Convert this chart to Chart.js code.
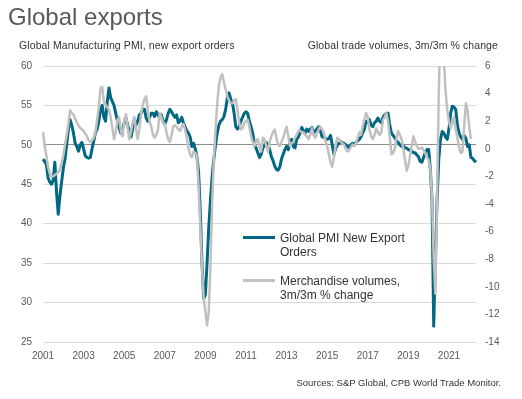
<!DOCTYPE html>
<html>
<head>
<meta charset="utf-8">
<script src="https://cdn.jsdelivr.net/npm/chart.js@4.4.1/dist/chart.umd.min.js"></script>
<style>
  html, body { margin: 0; padding: 0; background: #fff; }
  #wrap { position: relative; width: 522px; height: 399px; font-family: "Liberation Sans", Arial, sans-serif; overflow: hidden; }
  #chart { position: absolute; left: 0; top: 0; }
  .txt { position: absolute; white-space: nowrap; }
  .title { left: 8px; top: 5px; font-size: 24px; line-height: 24px; color: #595959; }
  .sub { top: 39px; font-size: 10.5px; line-height: 12px; color: #333; letter-spacing: 0.1px; }
  .source { right: 21px; top: 377px; font-size: 9.5px; line-height: 12px; color: #333; }
  .leg { left: 280px; font-size: 12px; line-height: 14px; color: #333; }
  .legline { position: absolute; left: 243px; width: 32px; }
</style>
</head>
<body>
<div id="wrap">
  <canvas id="chart" width="522" height="399"></canvas>
  <div class="txt title">Global exports</div>
  <div class="txt sub" style="left:19px">Global Manufacturing PMI, new export orders</div>
  <div class="txt sub" style="right:24px">Global trade volumes, 3m/3m % change</div>
  <div class="legline" style="top:236px;height:3px;background:#006882"></div>
  <div class="txt leg" style="top:231px">Global PMI New Export<br>Orders</div>
  <div class="legline" style="top:279px;height:3px;background:#c0c0c0"></div>
  <div class="txt leg" style="top:274px">Merchandise volumes,<br>3m/3m % change</div>
  <div class="txt source">Sources: S&amp;P Global, CPB World Trade Monitor.</div>
</div>
<script>
// Global Manufacturing PMI, new export orders (monthly, Jan 2001 - May 2022)
const pmiExportOrders = [
  48.2, 47.9, 47.5, 45.8, 45.3, 45.0, 45.5, 47.8, 44.0, 41.2, 43.5, 45.3, // 2001
  47.0, 48.2, 50.0, 52.0, 53.2, 52.5, 51.5, 50.2, 49.8, 49.2, 50.0, 50.3, // 2002
  49.5, 48.6, 48.4, 48.3, 48.4, 49.5, 50.5, 51.5, 52.0, 53.0, 54.5, 55.0, // 2003
  53.5, 53.0, 55.5, 57.2, 56.0, 55.5, 55.0, 54.0, 53.0, 52.2, 51.5, 52.0, // 2004
  52.8, 53.5, 52.5, 51.8, 51.0, 52.0, 53.2, 52.5, 53.0, 53.8, 54.0, 54.5, // 2005
  54.5, 53.4, 53.0, 53.5, 54.0, 54.0, 53.6, 54.2, 53.8, 53.4, 53.8, 53.0, // 2006
  52.6, 53.2, 54.0, 54.5, 54.2, 53.8, 53.5, 53.8, 52.8, 53.0, 53.5, 52.8, // 2007
  52.3, 51.8, 51.5, 51.0, 49.8, 50.2, 49.5, 48.5, 46.5, 41.5, 35.0, 30.5, // 2008
  31.0, 35.0, 39.5, 43.0, 46.0, 48.2, 50.0, 51.5, 52.5, 53.0, 53.2, 53.6, // 2009
  54.5, 56.0, 56.6, 55.8, 55.3, 54.0, 52.3, 52.0, 52.3, 53.0, 53.5, 54.0, // 2010
  54.2, 54.0, 53.0, 52.3, 51.5, 50.0, 49.6, 49.0, 48.4, 48.8, 49.6, 50.0, // 2011
  50.3, 50.0, 49.4, 48.5, 48.0, 47.3, 46.9, 46.8, 47.2, 48.2, 48.8, 49.4, // 2012
  49.8, 49.4, 50.2, 50.7, 49.8, 49.6, 50.7, 51.0, 51.5, 52.2, 51.8, 51.5, // 2013
  52.0, 51.7, 52.0, 52.2, 51.5, 51.8, 52.0, 52.3, 51.8, 51.0, 51.0, 50.8, // 2014
  50.7, 50.8, 51.2, 50.0, 48.8, 49.5, 50.0, 50.2, 50.4, 50.3, 50.2, 50.0, // 2015
  49.8, 49.6, 50.0, 50.2, 50.0, 50.3, 50.5, 50.7, 51.0, 51.5, 52.0, 53.0, // 2016
  52.8, 53.2, 52.5, 52.3, 52.8, 53.0, 53.4, 53.0, 52.8, 53.5, 53.8, 54.0, // 2017
  54.0, 52.5, 51.5, 51.2, 50.9, 50.5, 50.3, 50.0, 49.8, 49.9, 49.6, 49.6, // 2018
  49.4, 49.3, 49.2, 49.0, 49.0, 48.7, 48.5, 47.9, 47.8, 48.4, 49.0, 49.4, // 2019
  49.4, 46.9, 43.0, 27.0, 35.6, 43.1, 48.2, 50.7, 51.7, 51.5, 51.0, 50.7, // 2020
  52.0, 54.0, 54.9, 54.8, 54.5, 52.5, 51.5, 51.0, 50.7, 51.2, 50.8, 49.8, // 2021
  50.0, 48.4, 48.3, 48.0, 47.8                                            // 2022
];

// Merchandise trade volumes, 3m/3m % change (monthly, Jan 2001 - Feb 2022)
const tradeVolumes = [
  1.2, 0.2, -0.5, -1.3, -1.8, -2.0, -2.0, -1.9, -1.8, -1.7, -1.5, -1.0,   // 2001
  -0.5, 0.3, 1.0, 1.8, 2.8, 2.6, 2.5, 2.2, 1.9, 1.7, 1.5, 1.4,            // 2002
  1.3, 1.1, 0.9, 0.6, 0.5, 0.6, 0.8, 1.2, 2.1, 3.0, 4.4, 4.5,             // 2003
  3.4, 3.2, 3.0, 2.8, 2.3, 1.5, 0.7, 1.2, 2.1, 2.3, 1.3, 0.9,             // 2004
  2.0, 2.5, 1.6, 0.7, 1.2, 1.9, 2.3, 1.4, 0.7, 1.5, 2.5, 3.2,             // 2005
  3.6, 3.8, 2.8, 2.0, 1.6, 1.0, 0.8, 1.0, 1.4, 2.6, 2.3, 1.9,             // 2006
  1.8, 1.2, 0.7, 0.5, 1.0, 1.6, 1.7, 1.6, 1.4, 1.3, 1.6, 1.8,             // 2007
  1.4, 0.8, 0.0, -0.4, -0.6, -0.2, -0.3, -0.5, -2.7, -5.6, -8.5, -10.8,   // 2008
  -11.8, -12.8, -11.8, -8.5, -4.0, -0.8, 1.4, 3.3, 4.6, 5.2, 5.4, 4.8,    // 2009
  4.3, 3.8, 3.5, 3.3, 3.3, 3.5, 3.6, 2.8, 1.9, 1.4, 1.5, 1.9,             // 2010
  2.0, 2.1, 1.6, 0.9, 0.5, 0.2, 0.6, 0.7, 0.2, -0.2, 0.8, 0.7,            // 2011
  0.2, -0.2, 0.5, 0.9, 1.2, 1.4, 0.8, 0.3, 0.2, 0.5, 0.8, 1.2,            // 2012
  1.6, 0.9, 0.2, 0.4, 0.5, 0.8, 1.0, 1.3, 1.3, 1.2, 1.2, 1.0,             // 2013
  0.9, 0.7, 1.0, 1.5, 1.0, 0.8, 1.1, 1.4, 1.6, 1.4, 1.2, 0.6,             // 2014
  0.2, -0.4, -1.0, -1.3, -0.6, 0.2, 0.8, 0.7, 0.5, 0.4, 0.3, 0.0,         // 2015
  -0.2, -0.1, 0.1, 0.3, 0.2, 0.4, 0.8, 1.2, 1.0, 1.6, 2.1, 2.6,           // 2016
  2.3, 1.4, 0.9, 0.7, 1.0, 1.5, 1.2, 1.0, 1.2, 2.1, 2.3, 2.6,             // 2017
  2.0, 0.9, -0.4, -0.3, 0.0, 0.8, 1.3, 1.0, 0.7, 0.0, -0.8, -1.6,         // 2018
  -1.2, -0.5, 0.2, 0.9, 0.5, 0.2, 0.0, 0.0, 0.1, -0.1, -0.3, -0.6,        // 2019
  -0.8, -1.5, -3.6, -8.0, -10.5, -3.5, 4.0, 9.0, 10.0, 6.5, 4.2, 2.8,     // 2020
  2.0, 1.5, 1.9, 2.3, 1.4, 0.8, 0.1, -0.3, -0.2, 1.6, 3.3, 2.8,           // 2021
  1.6, 0.7                                                                // 2022
];

const tickYears = ['2001', '2003', '2005', '2007', '2009', '2011', '2013', '2015', '2017', '2019', '2021'];

// monthly categories, Jan 2001 onwards
const months = [];
for (let i = 0; i < pmiExportOrders.length; i++) {
  const y = 2001 + Math.floor(i / 12);
  const m = (i % 12) + 1;
  months.push(y + '-' + (m < 10 ? '0' + m : m));
}

const tickFont = { family: '"Liberation Sans", Arial, sans-serif', size: 10 };
const tickColor = '#595959';

new Chart(document.getElementById('chart'), {
  type: 'line',
  data: {
    labels: months,
    datasets: [
      {
        label: 'Global PMI New Export Orders',
        data: pmiExportOrders,
        yAxisID: 'y',
        borderColor: '#006882',
        borderWidth: 3,
        pointRadius: 0,
        borderJoinStyle: 'round',
        tension: 0,
        order: 2
      },
      {
        label: 'Merchandise volumes, 3m/3m % change',
        data: tradeVolumes,
        yAxisID: 'y2',
        borderColor: '#c0c0c0',
        borderWidth: 2.5,
        pointRadius: 0,
        borderJoinStyle: 'round',
        tension: 0,
        order: 1
      }
    ]
  },
  options: {
    responsive: false,
    animation: false,
    layout: { padding: { top: 66, left: 0, right: 0, bottom: 0 } },
    plugins: {
      legend: { display: false },
      tooltip: { enabled: false },
      title: { display: false }
    },
    scales: {
      x: {
        type: 'category',
        grid: { display: false, drawTicks: false },
        border: { display: false },
        ticks: {
          autoSkip: false,
          maxRotation: 0,
          minRotation: 0,
          padding: 8,
          font: tickFont,
          color: tickColor,
          callback: function (value) {
            const lab = this.getLabelForValue(value);
            const yr = lab.slice(0, 4);
            if (lab.endsWith('-01') && tickYears.includes(yr)) return yr;
            return null;
          }
        },
        afterFit: (scale) => { scale.height = 57; }
      },
      y: {
        position: 'left',
        min: 25,
        max: 60,
        grid: {
          drawTicks: false,
          color: (ctx) => (ctx.tick && ctx.tick.value === 50 ? '#8c8c8c' : '#d9d9d9'),
          lineWidth: 1
        },
        border: { display: false },
        ticks: { stepSize: 5, padding: 11, font: tickFont, color: tickColor },
        afterFit: (scale) => { scale.width = 43; }
      },
      y2: {
        position: 'right',
        min: -14,
        max: 6,
        grid: { display: false, drawTicks: false },
        border: { display: false },
        ticks: { stepSize: 2, padding: 9, font: tickFont, color: tickColor },
        afterFit: (scale) => { scale.width = 46; }
      }
    }
  }
});
</script>
</body>
</html>
